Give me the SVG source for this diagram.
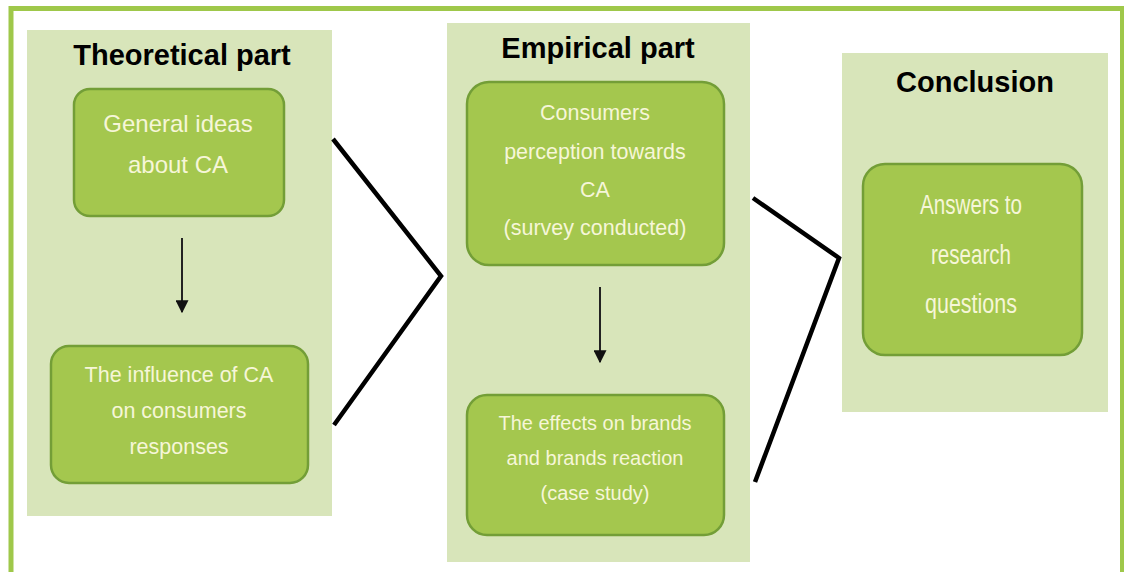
<svg xmlns="http://www.w3.org/2000/svg" width="1124" height="572" viewBox="0 0 1124 572">
  <defs>
    <style>
      .frame { fill: none; stroke: #9FC84A; stroke-width: 5; }
      .panel { fill: #D8E5BA; }
      .box { fill: #A4C74E; stroke: #739E37; stroke-width: 2.5; }
      .title { font-family: "Liberation Sans", Arial, sans-serif; font-weight: bold; font-size: 29px; fill: #000; text-anchor: middle; }
      .label { font-family: "Liberation Sans", Arial, sans-serif; font-size: 21.5px; fill: #F6F6D8; text-anchor: middle; }
      .large { font-size: 24px; }
      .small { font-size: 20px; }
      .narrow { font-size: 27px; }
      .link { fill: none; stroke: #000; stroke-width: 4.5; stroke-linejoin: miter; stroke-linecap: butt; }
      .step { fill: none; stroke: #222; stroke-width: 2; }
    </style>
    <marker id="arrowhead" viewBox="0 0 10 10" refX="9" refY="5" markerWidth="6.5" markerHeight="6.5" markerUnits="strokeWidth" orient="auto">
      <path d="M0,0 L10,5 L0,10 z" fill="#111"/>
    </marker>
  </defs>

  <rect width="1124" height="572" fill="#FFFFFF"/>

  <!-- outer frame (open at the bottom edge) -->
  <path class="frame" d="M11,575 L11,8.5 L1122.5,8.5 L1122.5,575"/>

  <!-- Theoretical part -->
  <g id="theoretical">
    <rect class="panel" x="27" y="30" width="305" height="486"/>
    <text class="title" x="182" y="65">Theoretical part</text>
  </g>
  <g id="general-ideas">
    <rect class="box" x="74" y="89" width="210" height="127" rx="16"/>
    <text class="label large" x="178" y="132">General ideas</text>
    <text class="label large" x="178" y="173">about CA</text>
  </g>
  <g id="influence">
    <rect class="box" x="51" y="346" width="257" height="137" rx="18"/>
    <text class="label" x="179" y="382">The influence of CA</text>
    <text class="label" x="179" y="418">on consumers</text>
    <text class="label" x="179" y="454">responses</text>
  </g>

  <!-- Empirical part -->
  <g id="empirical">
    <rect class="panel" x="447" y="23" width="303" height="539"/>
    <text class="title" x="598" y="58">Empirical part</text>
  </g>
  <g id="perception">
    <rect class="box" x="467" y="82" width="257" height="183" rx="22"/>
    <text class="label" x="595" y="120" font-size="22.5">Consumers</text>
    <text class="label" x="595" y="159" font-size="22.5">perception towards</text>
    <text class="label" x="595" y="197" font-size="22.5">CA</text>
    <text class="label" x="595" y="235" font-size="22.5">(survey conducted)</text>
  </g>
  <g id="effects">
    <rect class="box" x="467" y="395" width="257" height="140" rx="20"/>
    <text class="label small" x="595" y="430">The effects on brands</text>
    <text class="label small" x="595" y="465">and brands reaction</text>
    <text class="label small" x="595" y="500">(case study)</text>
  </g>

  <!-- Conclusion -->
  <g id="conclusion">
    <rect class="panel" x="842" y="53" width="266" height="359"/>
    <text class="title" x="975" y="92">Conclusion</text>
  </g>
  <g id="answers">
    <rect class="box" x="863" y="164" width="219" height="191" rx="22"/>
    <text class="label narrow" x="971" y="214" textLength="102" lengthAdjust="spacingAndGlyphs">Answers to</text>
    <text class="label narrow" x="971" y="264" textLength="80" lengthAdjust="spacingAndGlyphs">research</text>
    <text class="label narrow" x="971" y="313" textLength="92" lengthAdjust="spacingAndGlyphs">questions</text>
  </g>

  <!-- connectors -->
  <g id="connectors">
    <polyline class="link" points="333,139 441,276 334,425"/>
    <polyline class="link" points="753,198 839,258 755,482"/>
    <line class="step" x1="182" y1="238" x2="182" y2="312" marker-end="url(#arrowhead)"/>
    <line class="step" x1="600" y1="287" x2="600" y2="362" marker-end="url(#arrowhead)"/>
  </g>
</svg>
